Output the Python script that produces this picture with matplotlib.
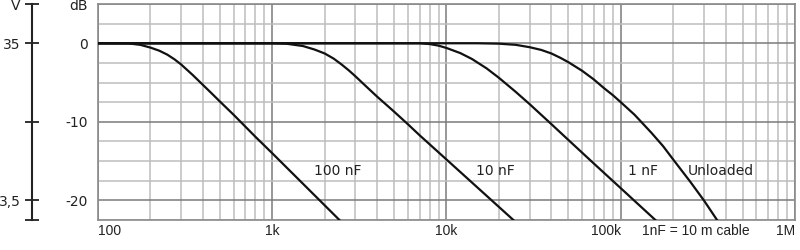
import numpy as np
import matplotlib
matplotlib.use('Agg')
import matplotlib.pyplot as plt
from matplotlib.ticker import LogLocator, NullFormatter, NullLocator

# values (frequency in Hz, level in dB)
f_100n = [100, 150, 175, 200, 225, 250, 275, 300, 350, 400, 450, 500,
          600, 700, 800, 1000, 2430]
db_100n = [0, -0.02, -0.2, -0.55, -0.95, -1.45, -2.05, -2.7, -4.05, -5.3, -6.4, -7.4,
           -9.1, -10.6, -11.9, -14.0, -22.5]

f_10n = [100, 1000, 1200, 1500, 1750, 2000, 2250, 2500, 2750, 3000, 3500, 4000,
         4500, 5000, 6000, 7000, 10000, 24200]
db_10n = [0, 0, -0.05, -0.35, -0.8, -1.3, -1.95, -2.7, -3.45, -4.2, -5.6, -6.8,
          -7.8, -8.7, -10.3, -11.7, -14.8, -22.5]

f_1n = [100, 7000, 8000, 9000, 10000, 12000, 14000, 17000, 20000, 25000, 30000,
        40000, 50000, 70000, 100000, 158000]
db_1n = [0, 0, -0.1, -0.3, -0.6, -1.25, -2.0, -3.2, -4.4, -6.2, -7.75,
         -10.3, -12.3, -15.3, -18.45, -22.5]

f_unl = [100, 15000, 20000, 25000, 30000, 35000, 40000, 45000, 50000, 60000, 70000,
         80000, 90000, 100000, 120000, 150000, 175000, 200000, 250000, 300000, 357000]
db_unl = [0, 0, -0.05, -0.2, -0.5, -0.85, -1.3, -1.85, -2.4, -3.5, -4.6,
          -5.7, -6.6, -7.5, -9.1, -11.4, -13.1, -14.8, -17.6, -20.0, -22.5]

curve_labels = ['100 nF', '10 nF', '1 nF', 'Unloaded']
label_f = [2370, 19000, 135000, 377000]
label_db = [-16.2, -16.2, -16.2, -16.2]

x_ticks = [1e2, 1e3, 1e4, 1e5, 1e6]
x_ticklabels = ['100', '1k', '10k', '100k', '1M']
db_ticks = [5, 0, -10, -20]
db_ticklabels = ['dB', '0', '-10', '-20']
v_tick_db = [5, 0, -10, -20, -22.5]
v_ticklabels = ['V', '35', '', '3,5', '']

narrow = ['DejaVu Sans Condensed', 'Liberation Sans', 'DejaVu Sans']


def db_to_v(d):
    return 35 * 10 ** (np.asarray(d, dtype=float) / 20)


def v_to_db(v):
    with np.errstate(divide='ignore', invalid='ignore'):
        return 20 * np.log10(np.asarray(v, dtype=float) / 35)


fig = plt.figure(figsize=(8, 2.5), dpi=100)
ax = fig.add_axes([98 / 800, 30 / 250, 697 / 800, 216 / 250])
ax.set_xscale('log')
ax.set_xlim(100, 1e6)
ax.set_ylim(-22.5, 5)

for f, db in [(f_100n, db_100n), (f_10n, db_10n), (f_1n, db_1n), (f_unl, db_unl)]:
    ax.plot(f, db, color='#111111', lw=1.6, zorder=3, solid_joinstyle='round')

for name, x, y in zip(curve_labels, label_f, label_db):
    ax.text(x, y, name, ha='center', va='center', fontsize=10, color='#222222')

# grid
ax.set_xticks(x_ticks)
ax.set_xticklabels(x_ticklabels, family=narrow, fontsize=10)
ax.xaxis.set_minor_locator(LogLocator(base=10, subs=np.arange(2, 10)))
ax.xaxis.set_minor_formatter(NullFormatter())
ax.set_yticks(db_ticks)
ax.set_yticklabels(db_ticklabels)
ax.set_yticks(np.arange(-22.5, 5.1, 2.5), minor=True)
ax.grid(which='major', color='#7a7a7a', lw=1.1)
ax.grid(which='minor', color='#bdbdbd', lw=1.1)
ax.tick_params(which='both', length=0, colors='#222222')
ax.tick_params(axis='y', pad=7.2, labelsize=10)
ax.tick_params(axis='x', pad=3)
xl = ax.get_xticklabels()
xl[0].set_ha('left')
xl[3].set_ha('right')
xl[4].set_ha('right')
for s in ax.spines.values():
    s.set_color('#8a8a8a')
    s.set_linewidth(1.2)

ax.annotate('1nF = 10 m cable', xy=(2.7e5, 0), xycoords=('data', 'axes fraction'),
            xytext=(0, -3), textcoords='offset points', ha='center', va='top',
            fontsize=10, family=narrow, color='#222222')

# voltage axis on the far left
sec = ax.secondary_yaxis(-66 / 697, functions=(db_to_v, v_to_db))
sec.set_yticks(db_to_v(v_tick_db))
sec.set_yticklabels(v_ticklabels)
sec.yaxis.set_minor_locator(NullLocator())
sec.tick_params(direction='inout', length=10, width=1.3, color='#222222',
                labelsize=10, labelcolor='#222222', pad=3)
sec.spines['left'].set_color('#222222')
sec.spines['left'].set_linewidth(1.5)

fig.savefig('out.png', dpi=100)
